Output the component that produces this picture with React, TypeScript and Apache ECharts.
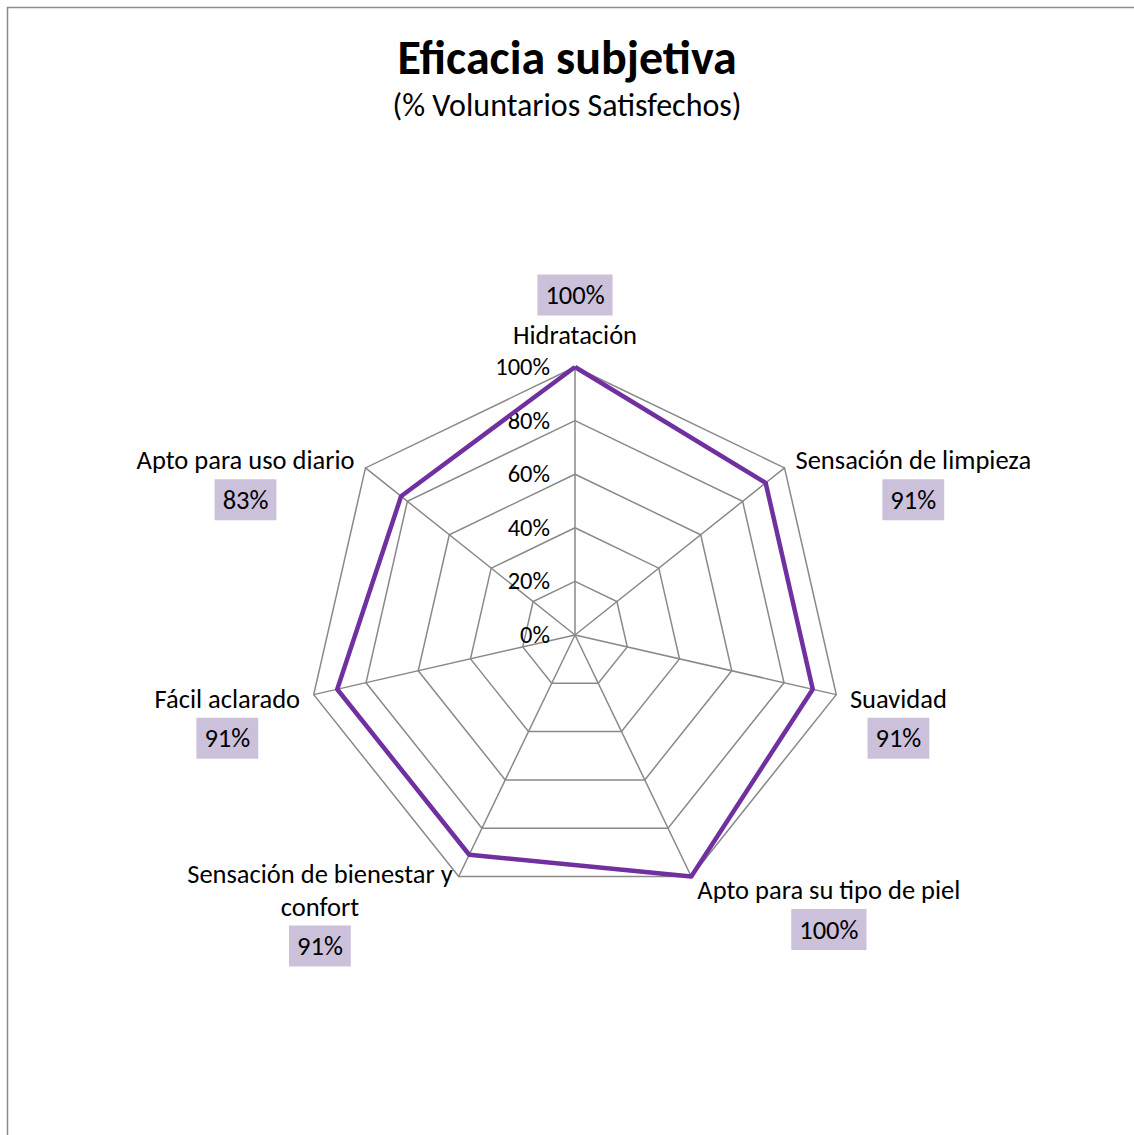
import React, { useEffect, useRef } from "react";
import * as echarts from "echarts";

// categories listed clockwise starting at the top
const categories = [
  "Hidratación",
  "Sensación de limpieza",
  "Suavidad",
  "Apto para su tipo de piel",
  "Sensación de bienestar y confort",
  "Fácil aclarado",
  "Apto para uso diario",
];
const values = [100, 91, 91, 100, 91, 91, 83];
const tickValues = [0, 20, 40, 60, 80, 100];

const FONT = "Carlito, Lato, 'Open Sans', sans-serif";

export default function App() {
  const ref = useRef<HTMLDivElement>(null);
  useEffect(() => {
    if (!ref.current) return;
    const chart = echarts.init(ref.current, null, { renderer: "svg" });
    const nameLines: Record<string, string[]> = {
      "Sensación de bienestar y confort": ["Sensación de bienestar y", "confort"],
    };
    // ECharts radar runs counter-clockwise: reorder so the reference's clockwise layout is kept
    const order = [0, ...categories.map((_, i) => i).slice(1).reverse()];
    const cats = order.map((i) => categories[i]);
    const vals = order.map((i) => values[i]);
    chart.setOption({
      animation: false,
      backgroundColor: "#fff",
      title: {
        text: "Eficacia subjetiva",
        subtext: "(% Voluntarios Satisfechos)",
        left: "center",
        top: 28,
        itemGap: 8,
        textStyle: { fontSize: 48, fontWeight: "bold", color: "#000", fontFamily: FONT },
        subtextStyle: { fontSize: 32, color: "#000", fontFamily: FONT },
      },
      graphic: [
        {
          type: "rect",
          shape: { x: 7.5, y: 7.5, width: 1300, height: 1300 },
          style: { fill: "none", stroke: "#8c8c8c", lineWidth: 1.5 },
          silent: true,
        },
      ],
      radar: {
        center: [575, 635],
        radius: 268,
        startAngle: 90,
        splitNumber: 5,
        shape: "polygon",
        indicator: cats.map((c) => ({ name: c, min: 0, max: 100 })),
        nameGap: 14,
        axisName: {
          color: "#000",
          fontFamily: FONT,
          fontSize: 26.5,
          padding: [40, 0, 2, 0],
          formatter: (name: string) => {
            const i = categories.indexOf(name);
            const v = `{v|${values[i]}%}`;
            const lines = (nameLines[name] || [name]).map((l) => `{n|${l}}`);
            if (i === 0) return `${v}\n{g| }\n${lines.join("\n")}`;
            return `${lines.join("\n")}\n{g| }\n${v}`;
          },
          rich: {
            n: { fontSize: 26.5, lineHeight: 33, align: "center", color: "#000", fontFamily: FONT },
            v: {
              fontSize: 26.5,
              lineHeight: 26,
              padding: [7, 8, 7, 8],
              backgroundColor: "#ccc1da",
              align: "center",
              color: "#000",
              fontFamily: FONT,
            },
            g: { fontSize: 2, lineHeight: 10 },
          },
        },
        axisLine: { lineStyle: { color: "#898989", width: 1.5 } },
        splitLine: { lineStyle: { color: "#898989", width: 1.5 } },
        splitArea: { show: false },
        axisTick: { show: false },
        axisLabel: { show: false },
      },
      polar: { center: [575, 635], radius: 268 },
      angleAxis: { show: false, startAngle: 90, min: 0, max: 360 },
      radiusAxis: {
        min: tickValues[0],
        max: tickValues[tickValues.length - 1],
        interval: tickValues[1] - tickValues[0],
        axisLine: { show: false },
        axisTick: { show: false },
        splitLine: { show: false },
        axisLabel: {
          formatter: "{value}%",
          fontSize: 24.5,
          margin: 25,
          color: "#000",
          fontFamily: FONT,
        },
      },
      series: [
        {
          type: "radar",
          symbol: "none",
          lineStyle: { color: "#7030a0", width: 4.5 },
          itemStyle: { color: "#7030a0" },
          data: [{ value: vals, name: "Eficacia" }],
        },
      ],
    });
    return () => chart.dispose();
  }, []);
  return (
    <div
      ref={ref}
      style={{ position: "absolute", left: 0, top: 0, width: 1134, height: 1135 }}
    />
  );
}
